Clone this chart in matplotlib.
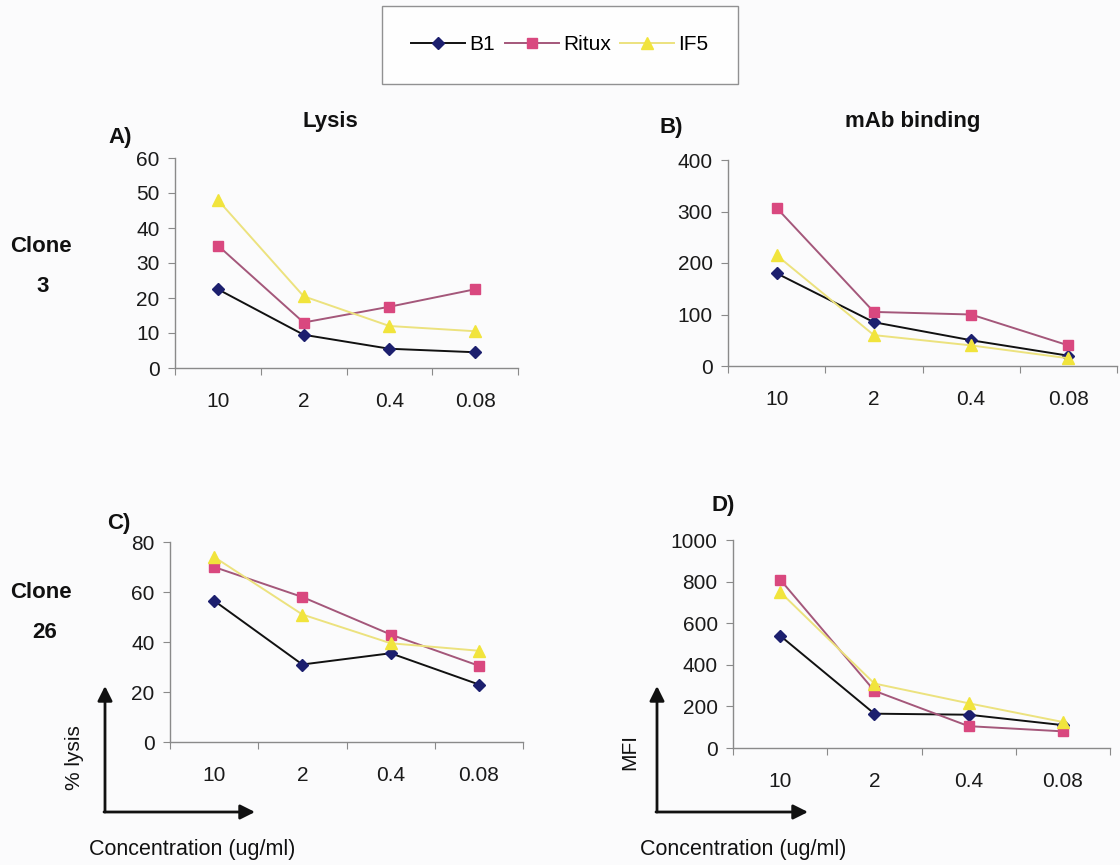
import matplotlib.pyplot as plt
from matplotlib.patches import FancyArrowPatch

plt.rcParams["font.family"] = ["Liberation Sans", "DejaVu Sans"]

conc = ["10", "2", "0.4", "0.08"]

# Clone 3
lysis_c3_b1 = [22.5, 9.5, 5.5, 4.5]
lysis_c3_ritux = [35, 13, 17.5, 22.5]
lysis_c3_if5 = [48, 20.5, 12, 10.5]
bind_c3_b1 = [180, 85, 50, 20]
bind_c3_ritux = [307, 105, 100, 40]
bind_c3_if5 = [215, 60, 40, 15]

# Clone 26
lysis_c26_b1 = [56.5, 31, 35.5, 23]
lysis_c26_ritux = [70, 58, 43, 30.5]
lysis_c26_if5 = [74, 51, 39.5, 36.5]
mfi_c26_b1 = [540, 165, 160, 110]
mfi_c26_ritux = [810, 275, 105, 80]
mfi_c26_if5 = [750, 310, 215, 125]

W, H = 1120, 865
fig = plt.figure(figsize=(W / 100, H / 100), dpi=100)
fig.patch.set_facecolor("#fbfbfc")


def rect(x0, y_bottom, x1, y_top):
    # pixel box (y measured from top) -> figure fraction
    return [x0 / W, (H - y_bottom) / H, (x1 - x0) / W, (y_bottom - y_top) / H]


def fx(x):
    return x / W


def fy(y):
    return (H - y) / H


styles = [
    dict(color="#111111", marker="D", mfc="#1c1f6e", mec="#1c1f6e", ms=6.5),
    dict(color="#a4577a", marker="s", mfc="#d9487f", mec="#d9487f", ms=7),
    dict(color="#ece27e", marker="^", mfc="#f1e43c", mec="#f1e43c", ms=8),
]
names = ["B1", "Ritux", "IF5"]


def panel(box, series, ymax, ystep):
    ax = fig.add_axes(box)
    ax.set_facecolor("none")
    x = range(len(conc))
    lines = []
    for vals, st, nm in zip(series, styles, names):
        ln, = ax.plot(x, vals, lw=1.4, label=nm, **st)
        lines.append(ln)
    ax.set_xlim(-0.5, 3.5)
    ax.set_ylim(0, ymax)
    ax.set_yticks(range(0, ymax + 1, ystep))
    ax.set_xticks([-0.5, 0.5, 1.5, 2.5, 3.5])
    ax.set_xticklabels([])
    ax.set_xticks(list(x), conc, minor=True)
    for s in ["top", "right"]:
        ax.spines[s].set_visible(False)
    for s in ["left", "bottom"]:
        ax.spines[s].set_color("#8a8a8a")
        ax.spines[s].set_linewidth(1.0)
    ax.tick_params(axis="y", length=5, color="#8a8a8a", labelsize=15, pad=6,
                   labelcolor="#1a1a1a")
    ax.tick_params(axis="x", which="major", length=5, color="#8a8a8a")
    ax.tick_params(axis="x", which="minor", length=0, labelsize=15, pad=17,
                   labelcolor="#1a1a1a")
    return ax, lines


axA, lines = panel(rect(175, 368, 518, 158),
                   [lysis_c3_b1, lysis_c3_ritux, lysis_c3_if5], 60, 10)
axB, _ = panel(rect(728, 366, 1117, 160),
               [bind_c3_b1, bind_c3_ritux, bind_c3_if5], 400, 100)
axC, _ = panel(rect(170, 742, 523, 542),
               [lysis_c26_b1, lysis_c26_ritux, lysis_c26_if5], 80, 20)
axD, _ = panel(rect(733, 748, 1110, 540),
               [mfi_c26_b1, mfi_c26_ritux, mfi_c26_if5], 1000, 200)

# legend box across the top
leg = fig.legend(handles=lines, loc="center", bbox_to_anchor=(fx(560), fy(45)),
                 ncol=3, fontsize=15, frameon=True, fancybox=False,
                 edgecolor="#777777", borderpad=1.4, handlelength=2.6,
                 handletextpad=0.2, columnspacing=0.45)
leg.get_frame().set_linewidth(1.0)
leg.get_frame().set_facecolor("white")

bold = dict(fontsize=16, fontweight="bold", ha="center", va="center",
            color="#111111")
fig.text(fx(330), fy(121), "Lysis", **bold)
fig.text(fx(913), fy(121), "mAb binding", **bold)
fig.text(fx(120), fy(138), "A)", **bold)
fig.text(fx(671), fy(127), "B)", **bold)
fig.text(fx(119), fy(523), "C)", **bold)
fig.text(fx(723), fy(505), "D)", **bold)
fig.text(fx(41), fy(247), "Clone", **bold)
fig.text(fx(43), fy(287), "3", **bold)
fig.text(fx(41), fy(592), "Clone", **bold)
fig.text(fx(45), fy(633), "26", **bold)


# axis arrows with their labels
def arrows(x0, y0, ytop, xend, ylabel, ylabel_x, ylabel_y, xlabel_x):
    kw = dict(transform=fig.transFigure, arrowstyle="-|>", mutation_scale=22,
              color="#111111", lw=2.0, shrinkA=0, shrinkB=0)
    fig.add_artist(FancyArrowPatch((fx(x0), fy(y0)), (fx(x0), fy(ytop)), **kw))
    fig.add_artist(FancyArrowPatch((fx(x0 - 1), fy(y0)), (fx(xend), fy(y0)), **kw))
    fig.text(fx(ylabel_x), fy(ylabel_y), ylabel, rotation=90, fontsize=15,
             ha="center", va="center", color="#111111")
    fig.text(fx(xlabel_x), fy(850), "Concentration (ug/ml)", fontsize=15.5,
             ha="center", va="center", color="#111111")


arrows(105, 812, 686, 255, "% lysis", 75, 758, 192)
arrows(657, 812, 686, 808, "MFI", 630, 752, 743)

fig.savefig("out.png", dpi=100, facecolor=fig.get_facecolor())
